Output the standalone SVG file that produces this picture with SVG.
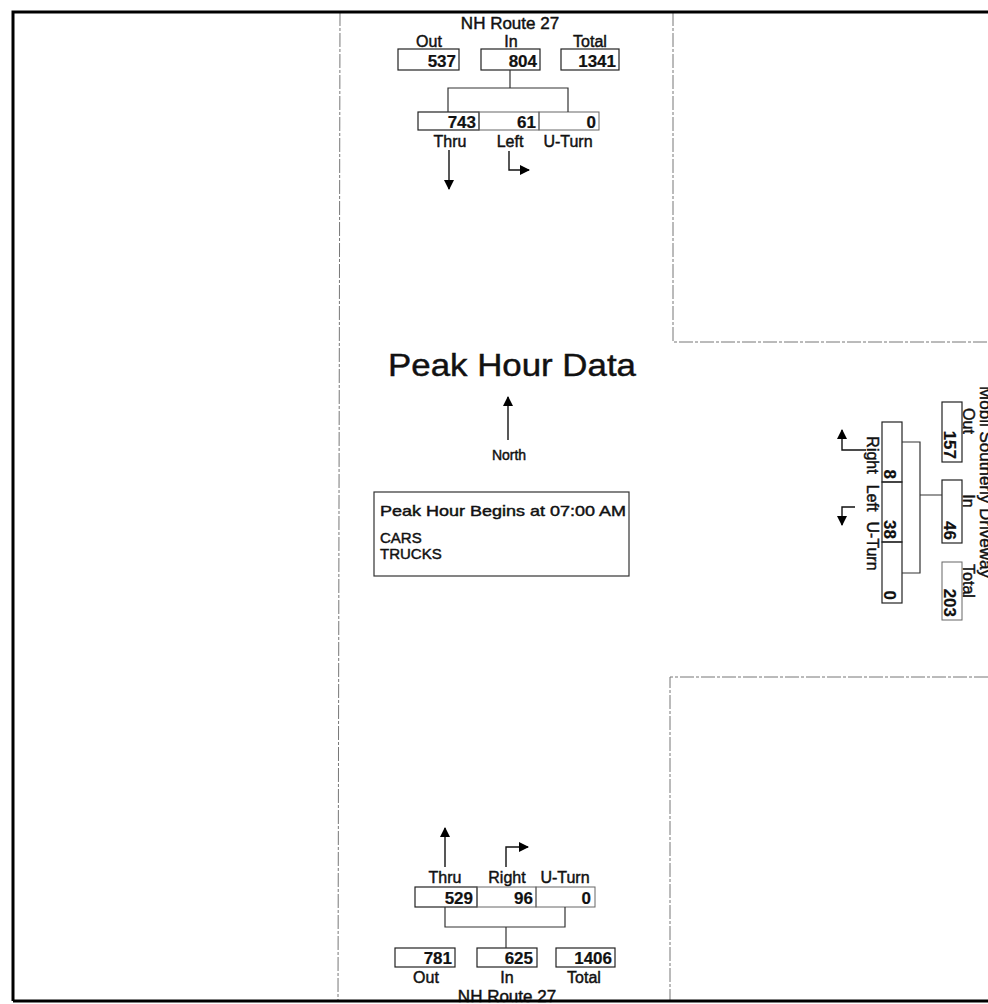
<svg xmlns="http://www.w3.org/2000/svg" width="988" height="1004" viewBox="0 0 988 1004">
<style>
text{font-family:"Liberation Sans",Arial,sans-serif;fill:#111;stroke:#111;stroke-width:0.45}
.lbl{font-size:16px}
.num{font-size:17px;font-weight:bold;stroke-width:0.2}
.mid{text-anchor:middle}
.end{text-anchor:end}
.box{fill:none;stroke:#222;stroke-width:1.2}
.boxg{fill:none;stroke:#666;stroke-width:1}
.con{fill:none;stroke:#333;stroke-width:1.2}
.arr{fill:none;stroke:#111;stroke-width:1.4}
.guide{fill:none;stroke:#777;stroke-width:1;stroke-dasharray:14,2,3,2}
.frame{fill:none;stroke:#000;stroke-width:3}
</style>
<defs>
<marker id="ah" viewBox="0 0 10 10" refX="9" refY="5" markerWidth="10" markerHeight="10" markerUnits="userSpaceOnUse" orient="auto">
<path d="M0,0 L10,5 L0,10 z" fill="#000"/>
</marker>
</defs>
<rect width="988" height="1004" fill="#fff"/>

<g id="guides">
<line class="guide" x1="340" y1="12" x2="338" y2="1001"/>
<path class="guide" d="M673,12 V342 H988"/>
<path class="guide" d="M988,677 H670 V1001"/>
</g>

<g id="legend">
<text x="388" y="376" font-size="31" textLength="248" lengthAdjust="spacingAndGlyphs" stroke-width="0.6">Peak Hour Data</text>
<text class="mid" x="509" y="460" font-size="14">North</text>
<rect x="374" y="492" width="255" height="84" fill="none" stroke="#333" stroke-width="1.2"/>
<text x="380" y="516" font-size="15" textLength="246" lengthAdjust="spacingAndGlyphs">Peak Hour Begins at 07:00 AM</text>
<text x="380" y="543" font-size="15">CARS</text>
<text x="380" y="559" font-size="15">TRUCKS</text>
</g>

<g id="node-north">
<text class="mid" x="510" y="29" font-size="17">NH Route 27</text>
<text class="lbl mid" x="429" y="47">Out</text>
<text class="lbl mid" x="511" y="47">In</text>
<text class="lbl mid" x="590" y="47">Total</text>
<rect class="box" x="398" y="49" width="61" height="21"/>
<rect class="box" x="481" y="49" width="59" height="21"/>
<rect class="box" x="561" y="49" width="58" height="21"/>
<text class="num end" x="456" y="67">537</text>
<text class="num end" x="537" y="67">804</text>
<text class="num end" x="616" y="67">1341</text>
<rect class="box" x="418" y="112" width="61" height="18"/>
<rect class="boxg" x="479" y="112" width="60" height="18"/>
<rect class="boxg" x="539" y="112" width="60" height="18"/>
<text class="num end" x="476" y="128">743</text>
<text class="num end" x="536" y="128">61</text>
<text class="num end" x="596" y="128">0</text>
<text class="lbl mid" x="450" y="147">Thru</text>
<text class="lbl mid" x="510" y="147">Left</text>
<text class="lbl mid" x="568" y="147">U-Turn</text>
</g>

<g id="node-south">
<text class="lbl mid" x="445" y="883">Thru</text>
<text class="lbl mid" x="507" y="883">Right</text>
<text class="lbl mid" x="565" y="883">U-Turn</text>
<rect class="box" x="415" y="887" width="62" height="20"/>
<rect class="boxg" x="477" y="887" width="59" height="20"/>
<rect class="boxg" x="536" y="887" width="59" height="20"/>
<text class="num end" x="473" y="904">529</text>
<text class="num end" x="533" y="904">96</text>
<text class="num end" x="591" y="904">0</text>
<rect class="box" x="395" y="948" width="60" height="19"/>
<rect class="box" x="477" y="948" width="60" height="19"/>
<rect class="box" x="556" y="948" width="59" height="19"/>
<text class="num end" x="452" y="964">781</text>
<text class="num end" x="533" y="964">625</text>
<text class="num end" x="612" y="964">1406</text>
<text class="lbl mid" x="426" y="983">Out</text>
<text class="lbl mid" x="507" y="983">In</text>
<text class="lbl mid" x="584" y="983">Total</text>
<text class="mid" x="507" y="1002" font-size="17">NH Route 27</text>
</g>

<g id="node-east">
<text class="mid" transform="translate(980,482) rotate(90)" font-size="17">Mobil Southerly Driveway</text>
<text class="lbl mid" transform="translate(963,421) rotate(90)">Out</text>
<text class="lbl mid" transform="translate(963,501) rotate(90)">In</text>
<text class="lbl mid" transform="translate(963,581) rotate(90)">Total</text>
<rect class="box" x="942" y="402" width="20" height="60"/>
<rect class="box" x="942" y="480" width="20" height="63"/>
<rect class="boxg" x="942" y="562" width="20" height="58"/>
<text class="num end" transform="translate(944,459) rotate(90)">157</text>
<text class="num end" transform="translate(944,540) rotate(90)">46</text>
<text class="num end" transform="translate(944,617) rotate(90)">203</text>
<rect class="box" x="882" y="422" width="20" height="60"/>
<rect class="box" x="882" y="482" width="20" height="60"/>
<rect class="box" x="882" y="542" width="20" height="61"/>
<text class="num end" transform="translate(884,479) rotate(90)">8</text>
<text class="num end" transform="translate(884,539) rotate(90)">38</text>
<text class="num end" transform="translate(884,600) rotate(90)">0</text>
<text class="lbl mid" transform="translate(867,455) rotate(90)">Right</text>
<text class="lbl mid" transform="translate(867,498) rotate(90)">Left</text>
<text class="lbl mid" transform="translate(867,546) rotate(90)">U-Turn</text>
</g>

<g id="connectors">
<path class="con" d="M510,70 V88 M448,112 V88 H568 V112"/>
<path class="con" d="M445,907 V927 H565 V907 M506,927 V948"/>
<path class="con" d="M942,495 H920 M902,442 H920 V573 H902"/>
<line class="arr" x1="449" y1="150" x2="449" y2="189" marker-end="url(#ah)"/>
<path class="arr" d="M509,151 V170 H529" marker-end="url(#ah)"/>
<line class="arr" x1="508" y1="440" x2="508" y2="397" marker-end="url(#ah)"/>
<line class="arr" x1="445" y1="867" x2="445" y2="828" marker-end="url(#ah)"/>
<path class="arr" d="M506,867 V847 H528" marker-end="url(#ah)"/>
<path class="arr" d="M866,450 H842 V430" marker-end="url(#ah)"/>
<path class="arr" d="M855,507 H842 V525" marker-end="url(#ah)"/>
</g>

<g id="frame">
<path class="frame" d="M13,1001 V12 H988"/>
<line class="frame" x1="13" y1="1001" x2="988" y2="1001"/>
</g>
</svg>
